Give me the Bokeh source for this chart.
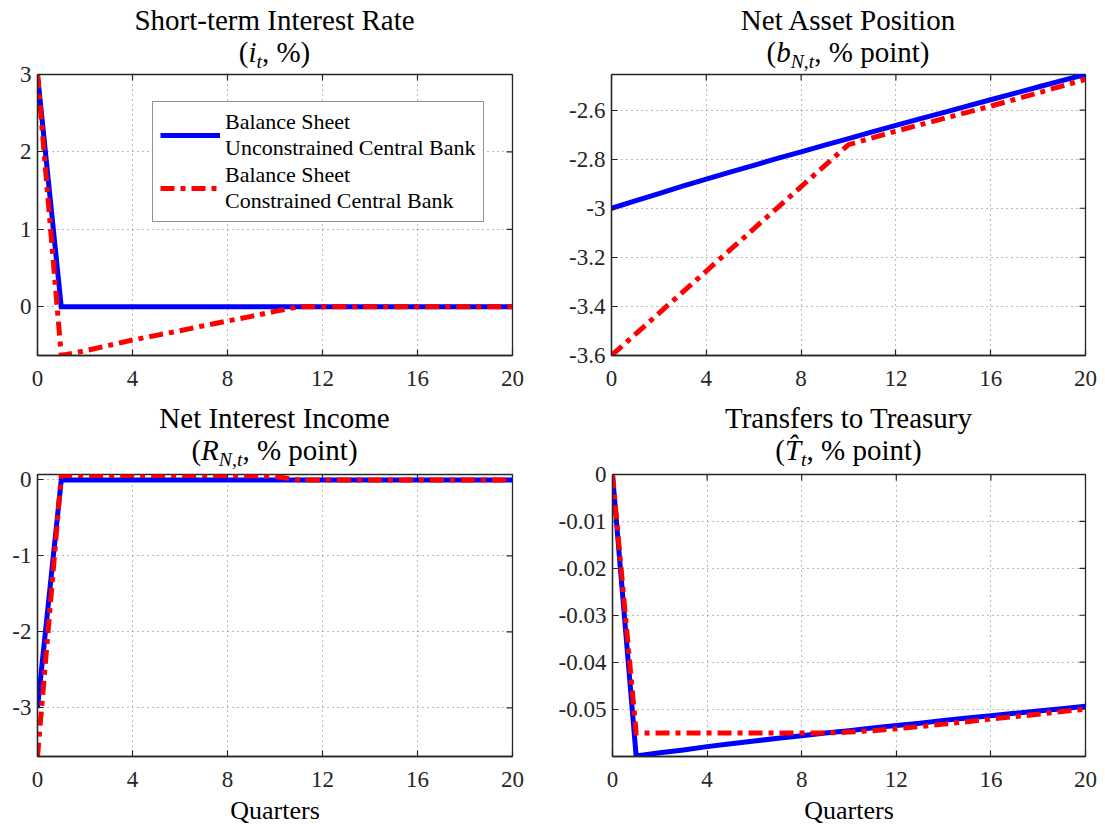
import math
from bokeh.plotting import figure
from bokeh.models import Range1d, FixedTicker, Div, Legend, LegendItem, CustomJSTickFormatter
from bokeh.layouts import column, row
from bokeh.embed import file_html
from bokeh.resources import INLINE

# ---------------- data ----------------
quarters = [0, 1, 2, 3, 4, 5, 6, 7, 8, 9, 10, 11, 12, 13, 14, 15, 16, 17, 18, 19, 20]

rate_unconstrained = [3.0, 0.0, 0.0, 0.0, 0.0, 0.0, 0.0, 0.0, 0.0, 0.0, 0.0,
                      0.0, 0.0, 0.0, 0.0, 0.0, 0.0, 0.0, 0.0, 0.0, 0.0]
rate_constrained = [3.0, -0.63, -0.57, -0.50, -0.43, -0.37, -0.31, -0.245, -0.185, -0.125, -0.06,
                    0.0, 0.0, 0.0, 0.0, 0.0, 0.0, 0.0, 0.0, 0.0, 0.0]

nap_unconstrained = [-3.000, -2.970, -2.940, -2.910, -2.881, -2.853, -2.825, -2.797, -2.770, -2.743, -2.716,
                     -2.689, -2.662, -2.636, -2.610, -2.584, -2.558, -2.532, -2.506, -2.480, -2.455]
nap_constrained = [-3.600, -3.514, -3.428, -3.342, -3.256, -3.170, -3.084, -2.998, -2.912, -2.826, -2.741,
                   -2.713, -2.686, -2.660, -2.635, -2.609, -2.584, -2.557, -2.530, -2.502, -2.475]

nii_unconstrained = [-3.0, 0.0, 0.0, 0.0, 0.0, 0.0, 0.0, 0.0, 0.0, 0.0, 0.0,
                     0.0, 0.0, 0.0, 0.0, 0.0, 0.0, 0.0, 0.0, 0.0, 0.0]
nii_constrained = [-3.64, 0.06, 0.06, 0.06, 0.06, 0.06, 0.058, 0.058, 0.057, 0.055, 0.045,
                   0.0, 0.0, 0.0, 0.0, 0.0, 0.0, 0.0, 0.0, 0.0, 0.0]

tr_unconstrained = [0.0, -0.0600, -0.0593, -0.0587, -0.0580, -0.0574, -0.0568, -0.0562, -0.0557, -0.0551, -0.0546,
                    -0.0540, -0.0535, -0.0530, -0.0524, -0.0519, -0.0514, -0.0509, -0.0504, -0.0499, -0.0494]
tr_constrained = [0.0, -0.0551, -0.0551, -0.0551, -0.0551, -0.0551, -0.0551, -0.0551, -0.0551, -0.0551, -0.0549,
                  -0.0546, -0.0542, -0.0537, -0.0532, -0.0527, -0.0521, -0.0516, -0.0511, -0.0505, -0.0500]

x_ticks = [0, 4, 8, 12, 16, 20]
x_tick_labels = ["0", "4", "8", "12", "16", "20"]

rate_ticks = [0, 1, 2, 3]
rate_tick_labels = ["0", "1", "2", "3"]
nap_ticks = [-3.6, -3.4, -3.2, -3.0, -2.8, -2.6]
nap_tick_labels = ["-3.6", "-3.4", "-3.2", "-3", "-2.8", "-2.6"]
nii_ticks = [-3, -2, -1, 0]
nii_tick_labels = ["-3", "-2", "-1", "0"]
tr_ticks = [-0.05, -0.04, -0.03, -0.02, -0.01, 0.0]
tr_tick_labels = ["-0.05", "-0.04", "-0.03", "-0.02", "-0.01", "0"]

legend_labels = ["Balance Sheet\nUnconstrained Central Bank", "Balance Sheet\nConstrained Central Bank"]
x_axis_title = "Quarters"

# ---------------- style ----------------
SERIF = "Liberation Serif"
AXC = "#262626"
BLUE = "#0000FF"
RED = "#FF0000"
LW = 5
DASHDOT = "14 6 5 6"

FMT_CODE = """
for (let i = 0; i < tick_values.length; i++) {
    if (Math.abs(tick_values[i] - tick) < 1e-9) { return tick_texts[i]; }
}
return String(tick);
"""


def style_axis(ax, ticks, labels, standoff):
    ax.ticker = FixedTicker(ticks=ticks)
    ax.formatter = CustomJSTickFormatter(args=dict(tick_values=ticks, tick_texts=labels), code=FMT_CODE)
    ax.axis_line_color = AXC
    ax.axis_line_width = 1.3
    ax.major_tick_line_color = AXC
    ax.major_tick_line_width = 1.2
    ax.major_tick_in = 6
    ax.major_tick_out = 0
    ax.minor_tick_line_color = None
    ax.major_label_text_font = SERIF
    ax.major_label_text_font_size = "23px"
    ax.major_label_text_color = AXC
    ax.major_label_standoff = standoff


def make_panel(left, fw, right, top, fh, bottom, ylim, yticks, ylabels,
               ys_blue, ys_red, with_xlabel=False, legend=False):
    x_rng = Range1d(0, 20)
    y_rng = Range1d(ylim[0], ylim[1])
    p = figure(frame_width=fw, frame_height=fh,
               min_border_left=left, min_border_right=right,
               min_border_top=top, min_border_bottom=bottom,
               x_range=x_rng, y_range=y_rng,
               output_backend="svg", toolbar_location=None)
    p.background_fill_color = "white"
    p.border_fill_alpha = 0.0
    p.outline_line_color = AXC
    p.outline_line_width = 1.3

    xax = p.xaxis[0]
    yax = p.yaxis[0]
    style_axis(xax, x_ticks, x_tick_labels, 15)
    style_axis(yax, yticks, ylabels, 6)

    if with_xlabel:
        xax.axis_label = x_axis_title
        xax.axis_label_text_font = SERIF
        xax.axis_label_text_font_size = "26px"
        xax.axis_label_text_font_style = "normal"
        xax.axis_label_text_color = "black"
        xax.axis_label_standoff = 6

    p.xgrid.ticker = FixedTicker(ticks=x_ticks)
    p.ygrid.ticker = FixedTicker(ticks=yticks)
    for g in (p.xgrid, p.ygrid):
        g.grid_line_color = "#555555"
        g.grid_line_dash = "1 4"
        g.grid_line_width = 1
        g.grid_line_alpha = 0.8

    # inward tick marks on the right and top edges of the box (MATLAB "box on")
    p.scatter([x_rng.end] * len(yticks), yticks, marker="dash", size=12,
              line_color=AXC, line_width=1.2)
    p.scatter(x_ticks, [y_rng.end] * len(x_ticks), marker="dash", size=12, angle=math.pi / 2,
              line_color=AXC, line_width=1.2)

    r1 = p.line(quarters, ys_blue, line_color=BLUE, line_width=LW, line_join="miter")
    r2 = p.line(quarters, ys_red, line_color=RED, line_width=LW, line_dash=DASHDOT, line_join="miter")

    if legend:
        lg = Legend(items=[LegendItem(label=legend_labels[0], renderers=[r1]),
                           LegendItem(label=legend_labels[1], renderers=[r2])],
                    location=(115, 133))
        lg.label_text_font = SERIF
        lg.label_text_font_size = "22px"
        lg.label_text_line_height = 1.3
        lg.label_text_color = "black"
        lg.glyph_width = 60
        lg.label_standoff = 5
        lg.padding = 7
        lg.spacing = 1
        lg.margin = 0
        lg.border_line_color = AXC
        lg.border_line_width = 1
        lg.background_fill_alpha = 1.0
        p.add_layout(lg)
    return p


def title_div(width, left, fw, height, line1, line2):
    html = ('<div style="width:%dpx;margin-left:%dpx;text-align:center;'
            'font-family:\'Liberation Serif\',serif;font-size:29px;line-height:32px;'
            'color:black;padding-top:4px;white-space:nowrap">%s<br>%s</div>'
            % (fw, left, line1, line2))
    return Div(text=html, width=width, height=height, margin=0,
               styles={"overflow": "visible", "z-index": "2"})


SUB = '<sub style="font-size:68%;line-height:0;vertical-align:-0.3em">'

# top-left
pTL = make_panel(37, 475, 13, 14, 281, 43, (-0.63, 3.0), rate_ticks, rate_tick_labels,
                 rate_unconstrained, rate_constrained, legend=True)
dTL = title_div(525, 37, 475, 60, "Short-term Interest Rate",
                '(<i>i</i>' + SUB + '<i>t</i></sub>, %)')
# top-right
pTR = make_panel(86, 474, 20, 14, 281, 43, (-3.6, -2.455), nap_ticks, nap_tick_labels,
                 nap_unconstrained, nap_constrained)
dTR = title_div(580, 86, 474, 60, "Net Asset Position",
                '(<i>b</i>' + SUB + '<i>N</i>,<i>t</i></sub>, % point)')
# bottom-left
pBL = make_panel(37, 475, 13, 14, 282, 75, (-3.64, 0.072), nii_ticks, nii_tick_labels,
                 nii_unconstrained, nii_constrained, with_xlabel=True)
dBL = title_div(525, 37, 475, 62, "Net Interest Income",
                '(<i>R</i>' + SUB + '<i>N</i>,<i>t</i></sub>, % point)')
# bottom-right
pBR = make_panel(87, 473, 20, 14, 282, 75, (-0.0601, 0.0), tr_ticks, tr_tick_labels,
                 tr_unconstrained, tr_constrained, with_xlabel=True)
dBR = title_div(580, 87, 473, 62, "Transfers to Treasury",
                '(<i>T&#770;</i>' + SUB + '<i>t</i></sub>, % point)')

layout = column(
    row(column(dTL, pTL, spacing=0), column(dTR, pTR, spacing=0), spacing=0),
    row(column(dBL, pBL, spacing=0), column(dBR, pBR, spacing=0), spacing=0),
    spacing=0)

open("out.html", "w").write(file_html(layout, INLINE))
